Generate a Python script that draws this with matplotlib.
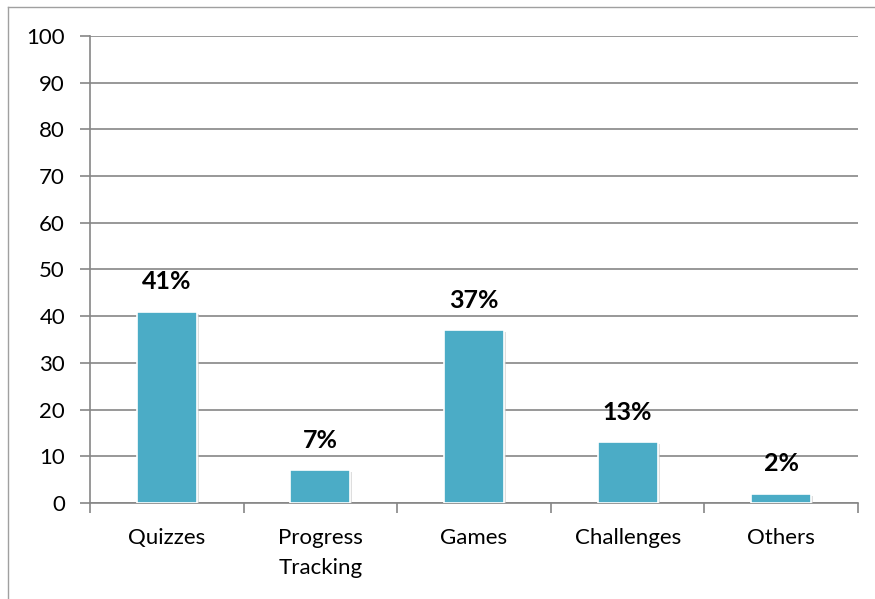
import matplotlib
matplotlib.use('Agg')
import matplotlib.pyplot as plt
from matplotlib.lines import Line2D
import matplotlib.patheffects as pe

categories = ["Quizzes", "Progress\nTracking", "Games", "Challenges", "Others"]
values = [41, 7, 37, 13, 2]
labels = ["41%", "7%", "37%", "13%", "2%"]
yticks = [0, 10, 20, 30, 40, 50, 60, 70, 80, 90, 100]

plt.rcParams['font.family'] = ['Lato', 'DejaVu Sans']

fig = plt.figure(figsize=(8.75, 5.99), dpi=100)
ax = fig.add_axes([0.1029, 0.1603, 0.8777, 0.7796])

grid_c = '#868686'
x = list(range(len(categories)))
bars = ax.bar(x, values, width=0.39, color='#4BACC6', edgecolor='white', linewidth=1.2, zorder=3)
for b in bars:
    b.set_path_effects([pe.SimplePatchShadow(offset=(1.5, -1.5), shadow_rgbFace='#c8c8c8', alpha=0.6), pe.Normal()])

for xi, v, lab in zip(x, values, labels):
    ax.annotate(lab, (xi, v), xytext=(0, 21.5), textcoords='offset points',
                ha='center', va='center', fontsize=18, fontweight='bold', color='black')

ax.set_xlim(-0.5, len(categories) - 0.5)
ax.set_ylim(0, 100)
ax.set_yticks(yticks)
ax.yaxis.grid(True, color=grid_c, linewidth=1.2, zorder=0)
ax.set_axisbelow(True)

ax.set_xticks(x)
ax.set_xticklabels(categories, fontsize=16, linespacing=1.65)
ax.set_xticks([i - 0.5 for i in range(len(categories) + 1)], minor=True)
ax.tick_params(axis='x', which='major', length=0, pad=18)
ax.tick_params(axis='x', which='minor', length=7, color=grid_c, width=1.2, direction='out')
ax.tick_params(axis='y', length=7, color=grid_c, width=1.2, labelsize=16, pad=11)

for s in ['top', 'right']:
    ax.spines[s].set_visible(False)
for s in ['left', 'bottom']:
    ax.spines[s].set_color(grid_c)
    ax.spines[s].set_linewidth(1.2)

# outer chart border (left and top edges visible)
fig.add_artist(Line2D([8 / 875, 8 / 875], [0, 1 - 7 / 599], transform=fig.transFigure, color='#a0a0a0', linewidth=1))
fig.add_artist(Line2D([8 / 875, 1], [1 - 7 / 599, 1 - 7 / 599], transform=fig.transFigure, color='#a0a0a0', linewidth=1))

fig.savefig('out.png', dpi=100)
